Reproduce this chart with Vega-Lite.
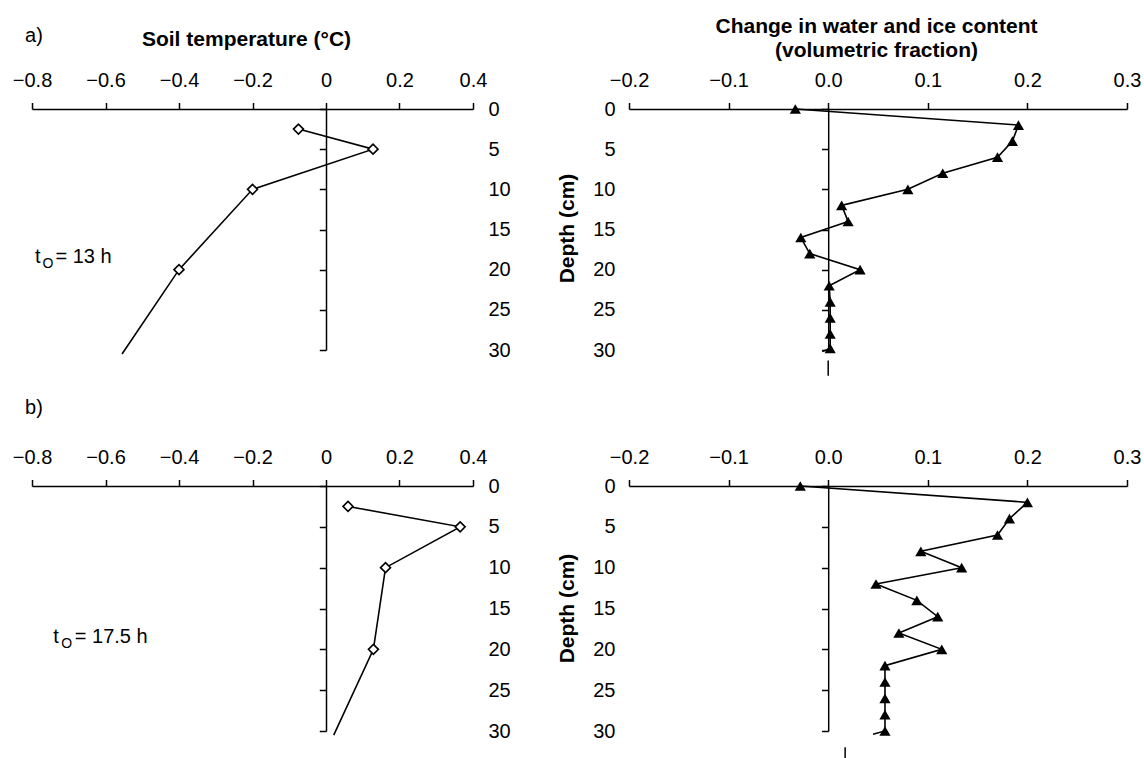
{
  "$schema": "https://vega.github.io/schema/vega-lite/v6.json",
  "padding": {"left": 12, "top": 15, "right": 0, "bottom": 0},
  "background": "white",
  "config": {
    "view": {"stroke": null},
    "font": "Liberation Sans",
    "axis": {
      "domainColor": "black", "domainWidth": 1.5,
      "tickColor": "black", "tickWidth": 1.5,
      "labelColor": "black", "labelFont": "Liberation Sans", "labelFontSize": 20,
      "titleFont": "Liberation Sans", "titleFontSize": 21, "titleFontWeight": "bold", "titleColor": "black",
      "grid": false, "labelOverlap": false, "labelFlush": false
    }
  },
  "columns": 2,
  "spacing": {"row": 136, "column": 156},
  "bounds": "flush",
  "concat": [
    {
      "width": 441, "height": 241,
      "data": {"values": [
        {"t": -0.075, "d": 2.5, "marker": true},
        {"t": 0.128, "d": 5, "marker": true},
        {"t": -0.2, "d": 10, "marker": true},
        {"t": -0.4, "d": 20, "marker": true},
        {"t": -0.555, "d": 30.5, "marker": false}
      ]},
      "resolve": {"axis": {"x": "independent", "y": "independent"}},
      "layer": [
        {
          "mark": {"type": "line", "color": "black", "strokeWidth": 1.6},
          "encoding": {
            "x": {"field": "t", "type": "quantitative", "scale": {"domain": [-0.8, 0.4], "nice": false, "zero": false},
              "axis": {"orient": "top", "values": [-0.8, -0.6, -0.4, -0.2, 0, 0.2, 0.4], "format": "~g", "tickSize": 6.5, "labelPadding": 12,
                "title": "Soil temperature (°C)", "titleX": 214, "titleY": -64, "titleBaseline": "alphabetic", "titleAlign": "center"}},
            "y": {"field": "d", "type": "quantitative", "scale": {"domain": [0, 30], "nice": false, "zero": false, "reverse": true},
              "axis": {"orient": "right", "values": [0, 5, 10, 15, 20, 25, 30], "format": "d", "domain": false, "ticks": false, "labelPadding": 15, "title": null}},
            "order": {"field": "d", "type": "quantitative"}
          }
        },
        {
          "transform": [{"filter": "datum.marker"}],
          "mark": {"type": "point", "shape": "diamond", "filled": true, "fill": "white", "stroke": "black", "strokeWidth": 1.6, "size": 100, "opacity": 1},
          "encoding": {
            "x": {"field": "t", "type": "quantitative", "scale": {"domain": [-0.8, 0.4], "nice": false, "zero": false}, "axis": null},
            "y": {"field": "d", "type": "quantitative", "scale": {"domain": [0, 30], "nice": false, "zero": false, "reverse": true},
              "axis": {"orient": "left", "offset": -294, "values": [0, 5, 10, 15, 20, 25, 30], "labels": false, "tickSize": 6.7, "title": null}}
          }
        },
        {
          "data": {"values": [{"x": -0.819, "d": -9.03, "label": "a)"}]},
          "mark": {"type": "text", "align": "left", "baseline": "middle", "fontSize": 20, "color": "black"},
          "encoding": {
            "x": {"field": "x", "type": "quantitative", "scale": {"domain": [-0.8, 0.4], "nice": false, "zero": false}, "axis": null},
            "y": {"field": "d", "type": "quantitative", "scale": {"domain": [0, 30], "nice": false, "zero": false, "reverse": true}, "axis": null},
            "text": {"field": "label"}
          }
        },
        {
          "data": {"values": [{"x": -0.792, "d": 19.2, "label": "t"}]},
          "mark": {"type": "text", "align": "left", "baseline": "alphabetic", "fontSize": 20, "color": "black"},
          "encoding": {
            "x": {"field": "x", "type": "quantitative", "scale": {"domain": [-0.8, 0.4], "nice": false, "zero": false}, "axis": null},
            "y": {"field": "d", "type": "quantitative", "scale": {"domain": [0, 30], "nice": false, "zero": false, "reverse": true}, "axis": null},
            "text": {"field": "label"}
          }
        },
        {
          "data": {"values": [{"x": -0.792, "d": 19.2, "label": "O"}]},
          "mark": {"type": "text", "align": "left", "baseline": "alphabetic", "fontSize": 14, "dx": 7.5, "dy": 5, "color": "black"},
          "encoding": {
            "x": {"field": "x", "type": "quantitative", "scale": {"domain": [-0.8, 0.4], "nice": false, "zero": false}, "axis": null},
            "y": {"field": "d", "type": "quantitative", "scale": {"domain": [0, 30], "nice": false, "zero": false, "reverse": true}, "axis": null},
            "text": {"field": "label"}
          }
        },
        {
          "data": {"values": [{"x": -0.792, "d": 19.2, "label": "= 13 h"}]},
          "mark": {"type": "text", "align": "left", "baseline": "alphabetic", "fontSize": 20, "dx": 20.5, "color": "black"},
          "encoding": {
            "x": {"field": "x", "type": "quantitative", "scale": {"domain": [-0.8, 0.4], "nice": false, "zero": false}, "axis": null},
            "y": {"field": "d", "type": "quantitative", "scale": {"domain": [0, 30], "nice": false, "zero": false, "reverse": true}, "axis": null},
            "text": {"field": "label"}
          }
        }
      ]
    },
    {
      "width": 498, "height": 241,
      "data": {"values": [
        {"w": -0.033, "d": 0, "marker": true},
        {"w": 0.191, "d": 2, "marker": true},
        {"w": 0.185, "d": 4, "marker": true},
        {"w": 0.170, "d": 6, "marker": true},
        {"w": 0.115, "d": 8, "marker": true},
        {"w": 0.080, "d": 10, "marker": true},
        {"w": 0.0135, "d": 12, "marker": true},
        {"w": 0.020, "d": 14, "marker": true},
        {"w": -0.0275, "d": 16, "marker": true},
        {"w": -0.0185, "d": 18, "marker": true},
        {"w": 0.032, "d": 20, "marker": true},
        {"w": 0.001, "d": 22, "marker": true},
        {"w": 0.002, "d": 24, "marker": true},
        {"w": 0.002, "d": 26, "marker": true},
        {"w": 0.002, "d": 28, "marker": true},
        {"w": 0.002, "d": 29.8, "marker": true},
        {"w": -0.006, "d": 30.2, "marker": false}
      ]},
      "resolve": {"axis": {"x": "independent", "y": "independent"}},
      "layer": [
        {
          "mark": {"type": "line", "color": "black", "strokeWidth": 1.6},
          "encoding": {
            "x": {"field": "w", "type": "quantitative", "scale": {"domain": [-0.2, 0.3], "nice": false, "zero": false},
              "axis": {"orient": "top", "values": [-0.2, -0.1, 0, 0.1, 0.2, 0.3], "format": ".1f", "tickSize": 6.5, "labelPadding": 12,
                "title": ["Change in water and ice content", "(volumetric fraction)"], "titleX": 247, "titleY": -77, "titleBaseline": "alphabetic", "titleAlign": "center", "titleLineHeight": 24}},
            "y": {"field": "d", "type": "quantitative", "scale": {"domain": [0, 30], "nice": false, "zero": false, "reverse": true},
              "axis": {"orient": "left", "values": [0, 5, 10, 15, 20, 25, 30], "format": "d", "domain": false, "ticks": false, "labelPadding": 14,
                "title": "Depth (cm)", "titleX": -56, "titleY": 119, "titleAngle": -90, "titleBaseline": "alphabetic", "titleAlign": "center"}},
            "order": {"field": "d", "type": "quantitative"}
          }
        },
        {
          "transform": [{"filter": "datum.marker"}],
          "mark": {"type": "point", "shape": "triangle-up", "filled": true, "fill": "black", "stroke": null, "size": 125, "opacity": 1},
          "encoding": {
            "x": {"field": "w", "type": "quantitative", "scale": {"domain": [-0.2, 0.3], "nice": false, "zero": false}, "axis": null},
            "y": {"field": "d", "type": "quantitative", "scale": {"domain": [0, 30], "nice": false, "zero": false, "reverse": true},
              "axis": {"orient": "left", "offset": -199.2, "values": [0, 5, 10, 15, 20, 25, 30], "labels": false, "tickSize": 6.7, "title": null}}
          }
        },
        {
          "data": {"values": [{"w": 0, "d1": 31.3, "d2": 33.2}]},
          "mark": {"type": "rule", "color": "black", "strokeWidth": 1.5},
          "encoding": {
            "x": {"field": "w", "type": "quantitative", "scale": {"domain": [-0.2, 0.3], "nice": false, "zero": false}, "axis": null},
            "y": {"field": "d1", "type": "quantitative", "scale": {"domain": [0, 30], "nice": false, "zero": false, "reverse": true}, "axis": null},
            "y2": {"field": "d2"}
          }
        }
      ]
    },
    {
      "width": 441, "height": 245,
      "data": {"values": [
        {"t": 0.06, "d": 2.5, "marker": true},
        {"t": 0.365, "d": 5, "marker": true},
        {"t": 0.162, "d": 10, "marker": true},
        {"t": 0.129, "d": 20, "marker": true},
        {"t": 0.021, "d": 30.5, "marker": false}
      ]},
      "resolve": {"axis": {"x": "independent", "y": "independent"}},
      "layer": [
        {
          "mark": {"type": "line", "color": "black", "strokeWidth": 1.6},
          "encoding": {
            "x": {"field": "t", "type": "quantitative", "scale": {"domain": [-0.8, 0.4], "nice": false, "zero": false},
              "axis": {"orient": "top", "values": [-0.8, -0.6, -0.4, -0.2, 0, 0.2, 0.4], "format": "~g", "tickSize": 6.5, "labelPadding": 12, "title": null}},
            "y": {"field": "d", "type": "quantitative", "scale": {"domain": [0, 30], "nice": false, "zero": false, "reverse": true},
              "axis": {"orient": "right", "values": [0, 5, 10, 15, 20, 25, 30], "format": "d", "domain": false, "ticks": false, "labelPadding": 15, "title": null}},
            "order": {"field": "d", "type": "quantitative"}
          }
        },
        {
          "transform": [{"filter": "datum.marker"}],
          "mark": {"type": "point", "shape": "diamond", "filled": true, "fill": "white", "stroke": "black", "strokeWidth": 1.6, "size": 100, "opacity": 1},
          "encoding": {
            "x": {"field": "t", "type": "quantitative", "scale": {"domain": [-0.8, 0.4], "nice": false, "zero": false}, "axis": null},
            "y": {"field": "d", "type": "quantitative", "scale": {"domain": [0, 30], "nice": false, "zero": false, "reverse": true},
              "axis": {"orient": "left", "offset": -294, "values": [0, 5, 10, 15, 20, 25, 30], "labels": false, "tickSize": 6.7, "title": null}}
          }
        },
        {
          "data": {"values": [{"x": -0.819, "d": -9.58, "label": "b)"}]},
          "mark": {"type": "text", "align": "left", "baseline": "middle", "fontSize": 20, "color": "black"},
          "encoding": {
            "x": {"field": "x", "type": "quantitative", "scale": {"domain": [-0.8, 0.4], "nice": false, "zero": false}, "axis": null},
            "y": {"field": "d", "type": "quantitative", "scale": {"domain": [0, 30], "nice": false, "zero": false, "reverse": true}, "axis": null},
            "text": {"field": "label"}
          }
        },
        {
          "data": {"values": [{"x": -0.742, "d": 19.2, "label": "t"}]},
          "mark": {"type": "text", "align": "left", "baseline": "alphabetic", "fontSize": 20, "color": "black"},
          "encoding": {
            "x": {"field": "x", "type": "quantitative", "scale": {"domain": [-0.8, 0.4], "nice": false, "zero": false}, "axis": null},
            "y": {"field": "d", "type": "quantitative", "scale": {"domain": [0, 30], "nice": false, "zero": false, "reverse": true}, "axis": null},
            "text": {"field": "label"}
          }
        },
        {
          "data": {"values": [{"x": -0.742, "d": 19.2, "label": "O"}]},
          "mark": {"type": "text", "align": "left", "baseline": "alphabetic", "fontSize": 14, "dx": 8, "dy": 5, "color": "black"},
          "encoding": {
            "x": {"field": "x", "type": "quantitative", "scale": {"domain": [-0.8, 0.4], "nice": false, "zero": false}, "axis": null},
            "y": {"field": "d", "type": "quantitative", "scale": {"domain": [0, 30], "nice": false, "zero": false, "reverse": true}, "axis": null},
            "text": {"field": "label"}
          }
        },
        {
          "data": {"values": [{"x": -0.742, "d": 19.2, "label": "= 17.5 h"}]},
          "mark": {"type": "text", "align": "left", "baseline": "alphabetic", "fontSize": 20, "dx": 21.5, "color": "black"},
          "encoding": {
            "x": {"field": "x", "type": "quantitative", "scale": {"domain": [-0.8, 0.4], "nice": false, "zero": false}, "axis": null},
            "y": {"field": "d", "type": "quantitative", "scale": {"domain": [0, 30], "nice": false, "zero": false, "reverse": true}, "axis": null},
            "text": {"field": "label"}
          }
        }
      ]
    },
    {
      "width": 498, "height": 245,
      "data": {"values": [
        {"w": -0.028, "d": 0, "marker": true},
        {"w": 0.200, "d": 2, "marker": true},
        {"w": 0.182, "d": 4, "marker": true},
        {"w": 0.170, "d": 6, "marker": true},
        {"w": 0.093, "d": 8, "marker": true},
        {"w": 0.134, "d": 10, "marker": true},
        {"w": 0.048, "d": 12, "marker": true},
        {"w": 0.089, "d": 14, "marker": true},
        {"w": 0.110, "d": 16, "marker": true},
        {"w": 0.071, "d": 18, "marker": true},
        {"w": 0.114, "d": 20, "marker": true},
        {"w": 0.057, "d": 22, "marker": true},
        {"w": 0.057, "d": 24, "marker": true},
        {"w": 0.057, "d": 26, "marker": true},
        {"w": 0.057, "d": 28, "marker": true},
        {"w": 0.057, "d": 30, "marker": true},
        {"w": 0.045, "d": 30.4, "marker": false}
      ]},
      "resolve": {"axis": {"x": "independent", "y": "independent"}},
      "layer": [
        {
          "mark": {"type": "line", "color": "black", "strokeWidth": 1.6},
          "encoding": {
            "x": {"field": "w", "type": "quantitative", "scale": {"domain": [-0.2, 0.3], "nice": false, "zero": false},
              "axis": {"orient": "top", "values": [-0.2, -0.1, 0, 0.1, 0.2, 0.3], "format": ".1f", "tickSize": 6.5, "labelPadding": 12, "title": null}},
            "y": {"field": "d", "type": "quantitative", "scale": {"domain": [0, 30], "nice": false, "zero": false, "reverse": true},
              "axis": {"orient": "left", "values": [0, 5, 10, 15, 20, 25, 30], "format": "d", "domain": false, "ticks": false, "labelPadding": 14,
                "title": "Depth (cm)", "titleX": -56, "titleY": 122, "titleAngle": -90, "titleBaseline": "alphabetic", "titleAlign": "center"}},
            "order": {"field": "d", "type": "quantitative"}
          }
        },
        {
          "transform": [{"filter": "datum.marker"}],
          "mark": {"type": "point", "shape": "triangle-up", "filled": true, "fill": "black", "stroke": null, "size": 125, "opacity": 1},
          "encoding": {
            "x": {"field": "w", "type": "quantitative", "scale": {"domain": [-0.2, 0.3], "nice": false, "zero": false}, "axis": null},
            "y": {"field": "d", "type": "quantitative", "scale": {"domain": [0, 30], "nice": false, "zero": false, "reverse": true},
              "axis": {"orient": "left", "offset": -199.2, "values": [0, 5, 10, 15, 20, 25, 30], "labels": false, "tickSize": 6.7, "title": null}}
          }
        },
        {
          "data": {"values": [{"w": 0.017, "d1": 32.0, "d2": 33.8}]},
          "mark": {"type": "rule", "color": "black", "strokeWidth": 1.5},
          "encoding": {
            "x": {"field": "w", "type": "quantitative", "scale": {"domain": [-0.2, 0.3], "nice": false, "zero": false}, "axis": null},
            "y": {"field": "d1", "type": "quantitative", "scale": {"domain": [0, 30], "nice": false, "zero": false, "reverse": true}, "axis": null},
            "y2": {"field": "d2"}
          }
        }
      ]
    }
  ]
}
